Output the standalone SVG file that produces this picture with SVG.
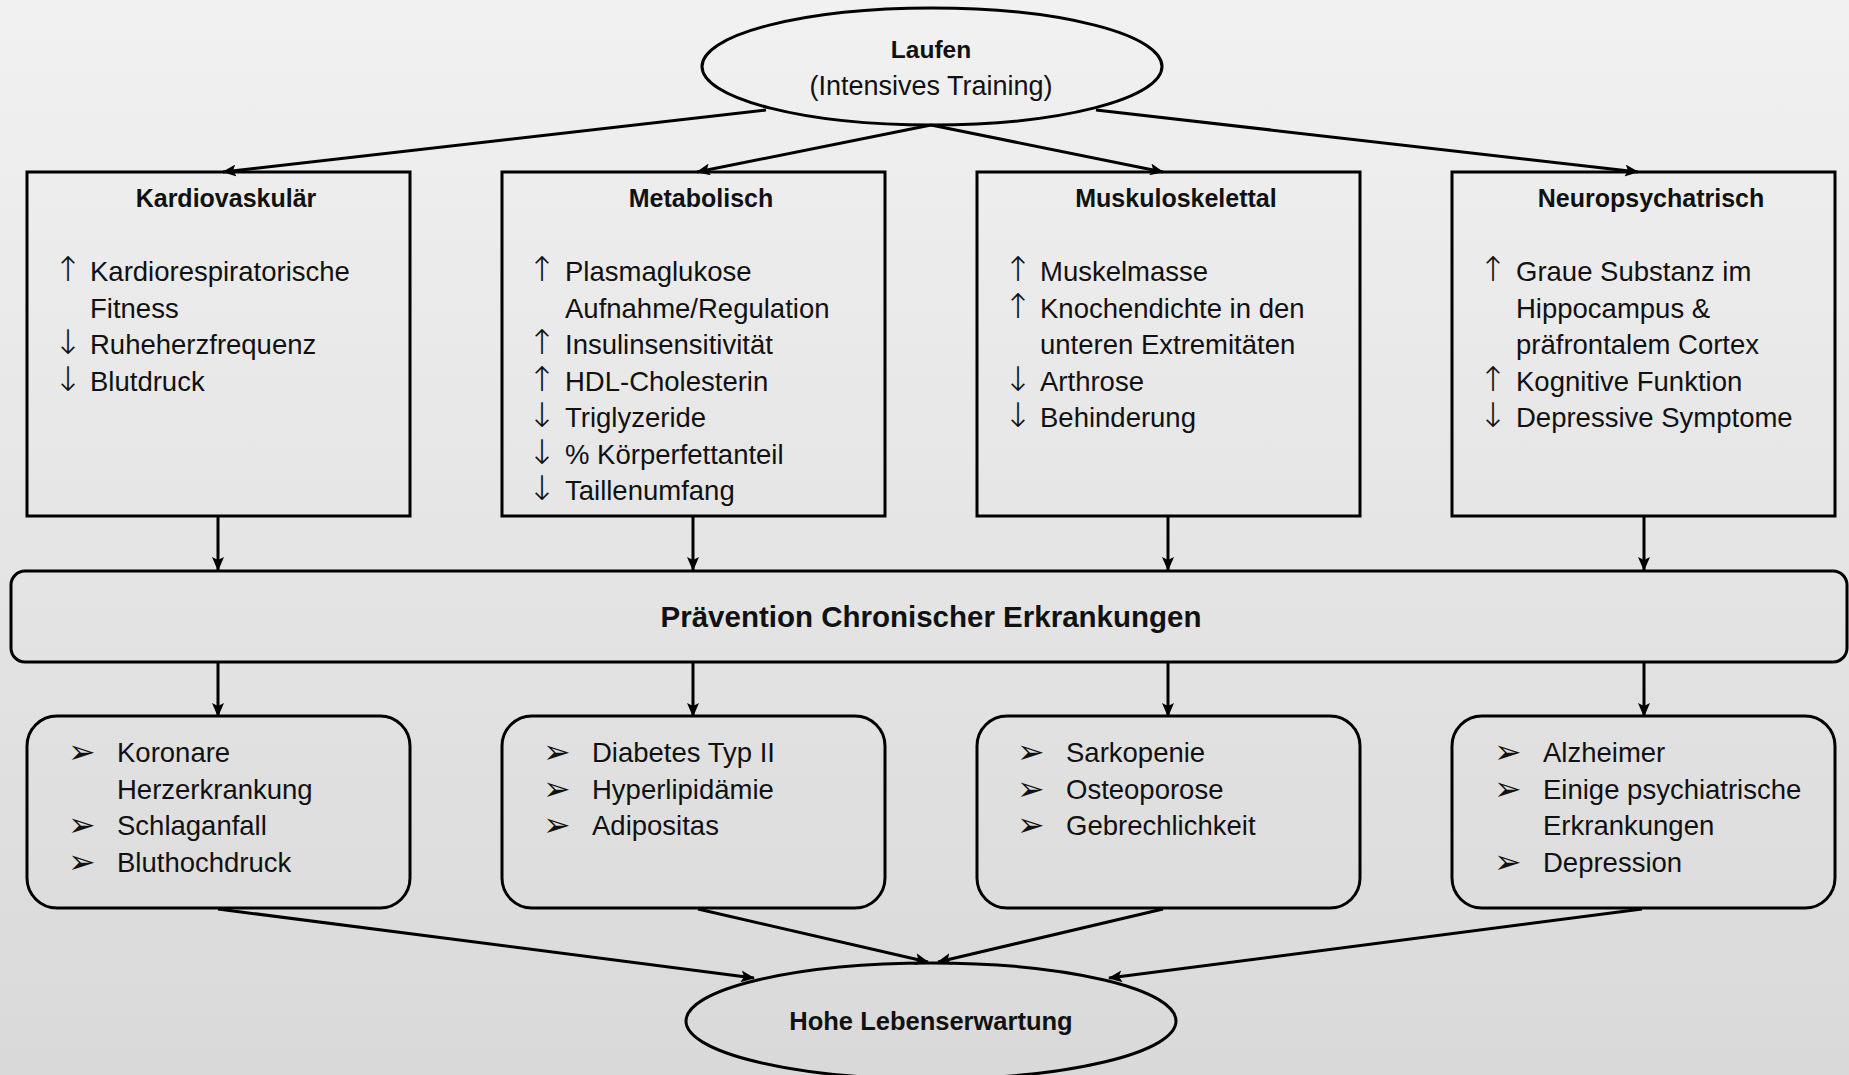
<svg xmlns="http://www.w3.org/2000/svg" width="1849" height="1075" viewBox="0 0 1849 1075">
<defs>
<linearGradient id="bg" x1="0" y1="0" x2="0" y2="1">
<stop offset="0" stop-color="#f1f1f1"/>
<stop offset="1" stop-color="#d9d9d9"/>
</linearGradient>
<marker id="ah" markerUnits="userSpaceOnUse" markerWidth="14" markerHeight="12" refX="13" refY="6" orient="auto">
<path d="M0,0 L14,6 L0,12 L3,6 Z" fill="#000"/>
</marker>
<style>
.shape{fill:none;stroke:#000;stroke-width:3}
.con{fill:none;stroke:#000;stroke-width:3;marker-end:url(#ah)}
.t{font-family:"Liberation Sans",Arial,sans-serif;font-size:27.5px;fill:#111}
.h{font-family:"Liberation Sans",Arial,sans-serif;font-size:25px;font-weight:bold;fill:#111;text-anchor:middle}
.ar{font-family:"DejaVu Sans",sans-serif;font-weight:200;font-size:34px;fill:#111;text-anchor:middle}
.bu{font-family:"DejaVu Sans",sans-serif;font-size:33px;fill:#111}
</style>
</defs>
<rect x="0" y="0" width="1849" height="1075" fill="url(#bg)"/>

<g id="connectors">
<line class="con" x1="766" y1="110" x2="223" y2="172"/>
<line class="con" x1="931" y1="125" x2="697" y2="172"/>
<line class="con" x1="931" y1="125" x2="1163" y2="172"/>
<line class="con" x1="1096" y1="110" x2="1638" y2="172"/>
<line class="con" x1="218" y1="516" x2="218" y2="570"/>
<line class="con" x1="693" y1="516" x2="693" y2="570"/>
<line class="con" x1="1168" y1="516" x2="1168" y2="570"/>
<line class="con" x1="1644" y1="516" x2="1644" y2="570"/>
<line class="con" x1="218" y1="662" x2="218" y2="716"/>
<line class="con" x1="693" y1="662" x2="693" y2="716"/>
<line class="con" x1="1168" y1="662" x2="1168" y2="716"/>
<line class="con" x1="1644" y1="662" x2="1644" y2="716"/>
<line class="con" x1="218" y1="909" x2="754" y2="978"/>
<line class="con" x1="698" y1="909" x2="928" y2="962"/>
<line class="con" x1="1163" y1="909" x2="938" y2="962"/>
<line class="con" x1="1642" y1="909" x2="1109" y2="978"/>
</g>

<g id="laufen">
<ellipse class="shape" cx="932" cy="66.5" rx="230" ry="58.5"/>
<text x="931" y="58" style="font-family:'Liberation Sans',Arial,sans-serif;font-size:24.5px;font-weight:bold;fill:#111;text-anchor:middle">Laufen</text>
<text x="931" y="95" style="font-family:'Liberation Sans',Arial,sans-serif;font-size:27px;fill:#111;text-anchor:middle">(Intensives Training)</text>
</g>

<g id="kardiovaskulaer">
<rect class="shape" x="27" y="172" width="383" height="344"/>
<text class="h" x="226" y="207">Kardiovaskulär</text>
<text class="ar" x="68" y="281">↑</text>
<text class="t" x="90" y="281">Kardiorespiratorische</text>
<text class="t" x="90" y="317.5">Fitness</text>
<text class="ar" x="68" y="354">↓</text>
<text class="t" x="90" y="354">Ruheherzfrequenz</text>
<text class="ar" x="68" y="390.5">↓</text>
<text class="t" x="90" y="390.5">Blutdruck</text>
</g>

<g id="metabolisch">
<rect class="shape" x="502" y="172" width="383" height="344"/>
<text class="h" x="701" y="207">Metabolisch</text>
<text class="ar" x="542" y="281">↑</text>
<text class="t" x="565" y="281">Plasmaglukose</text>
<text class="t" x="565" y="317.5">Aufnahme/Regulation</text>
<text class="ar" x="542" y="354">↑</text>
<text class="t" x="565" y="354">Insulinsensitivität</text>
<text class="ar" x="542" y="390.5">↑</text>
<text class="t" x="565" y="390.5">HDL-Cholesterin</text>
<text class="ar" x="542" y="427">↓</text>
<text class="t" x="565" y="427">Triglyzeride</text>
<text class="ar" x="542" y="463.5">↓</text>
<text class="t" x="565" y="463.5">% Körperfettanteil</text>
<text class="ar" x="542" y="500">↓</text>
<text class="t" x="565" y="500">Taillenumfang</text>
</g>

<g id="muskuloskelettal">
<rect class="shape" x="977" y="172" width="383" height="344"/>
<text class="h" x="1176" y="207">Muskuloskelettal</text>
<text class="ar" x="1018" y="281">↑</text>
<text class="t" x="1040" y="281">Muskelmasse</text>
<text class="ar" x="1018" y="317.5">↑</text>
<text class="t" x="1040" y="317.5">Knochendichte in den</text>
<text class="t" x="1040" y="354">unteren Extremitäten</text>
<text class="ar" x="1018" y="390.5">↓</text>
<text class="t" x="1040" y="390.5">Arthrose</text>
<text class="ar" x="1018" y="427">↓</text>
<text class="t" x="1040" y="427">Behinderung</text>
</g>

<g id="neuropsychatrisch">
<rect class="shape" x="1452" y="172" width="383" height="344"/>
<text class="h" x="1651" y="207">Neuropsychatrisch</text>
<text class="ar" x="1493" y="281">↑</text>
<text class="t" x="1516" y="281">Graue Substanz im</text>
<text class="t" x="1516" y="317.5">Hippocampus &amp;</text>
<text class="t" x="1516" y="354">präfrontalem Cortex</text>
<text class="ar" x="1493" y="390.5">↑</text>
<text class="t" x="1516" y="390.5">Kognitive Funktion</text>
<text class="ar" x="1493" y="427">↓</text>
<text class="t" x="1516" y="427">Depressive Symptome</text>
</g>

<g id="praevention">
<rect class="shape" x="11" y="571" width="1836" height="91" rx="14" ry="14"/>
<text x="931" y="627" style="font-family:'Liberation Sans',Arial,sans-serif;font-size:29.5px;font-weight:bold;fill:#111;text-anchor:middle">Prävention Chronischer Erkrankungen</text>
</g>

<g id="erkrankungen-kardio">
<rect class="shape" x="27" y="716" width="383" height="192" rx="30" ry="30"/>
<text class="bu" x="68" y="763">➢</text>
<text class="t" x="117" y="762">Koronare</text>
<text class="t" x="117" y="798.5">Herzerkrankung</text>
<text class="bu" x="68" y="836">➢</text>
<text class="t" x="117" y="835">Schlaganfall</text>
<text class="bu" x="68" y="872.5">➢</text>
<text class="t" x="117" y="871.5">Bluthochdruck</text>
</g>

<g id="erkrankungen-metabol">
<rect class="shape" x="502" y="716" width="383" height="192" rx="30" ry="30"/>
<text class="bu" x="543" y="763">➢</text>
<text class="t" x="592" y="762">Diabetes Typ II</text>
<text class="bu" x="543" y="799.5">➢</text>
<text class="t" x="592" y="798.5">Hyperlipidämie</text>
<text class="bu" x="543" y="836">➢</text>
<text class="t" x="592" y="835">Adipositas</text>
</g>

<g id="erkrankungen-muskulo">
<rect class="shape" x="977" y="716" width="383" height="192" rx="30" ry="30"/>
<text class="bu" x="1017" y="763">➢</text>
<text class="t" x="1066" y="762">Sarkopenie</text>
<text class="bu" x="1017" y="799.5">➢</text>
<text class="t" x="1066" y="798.5">Osteoporose</text>
<text class="bu" x="1017" y="836">➢</text>
<text class="t" x="1066" y="835">Gebrechlichkeit</text>
</g>

<g id="erkrankungen-neuro">
<rect class="shape" x="1452" y="716" width="383" height="192" rx="30" ry="30"/>
<text class="bu" x="1494" y="763">➢</text>
<text class="t" x="1543" y="762">Alzheimer</text>
<text class="bu" x="1494" y="799.5">➢</text>
<text class="t" x="1543" y="798.5">Einige psychiatrische</text>
<text class="t" x="1543" y="835">Erkrankungen</text>
<text class="bu" x="1494" y="872.5">➢</text>
<text class="t" x="1543" y="871.5">Depression</text>
</g>

<g id="lebenserwartung">
<ellipse class="shape" cx="931" cy="1021" rx="245" ry="58"/>
<text x="931" y="1030" style="font-family:'Liberation Sans',Arial,sans-serif;font-size:25.5px;font-weight:bold;fill:#111;text-anchor:middle">Hohe Lebenserwartung</text>
</g>
</svg>
